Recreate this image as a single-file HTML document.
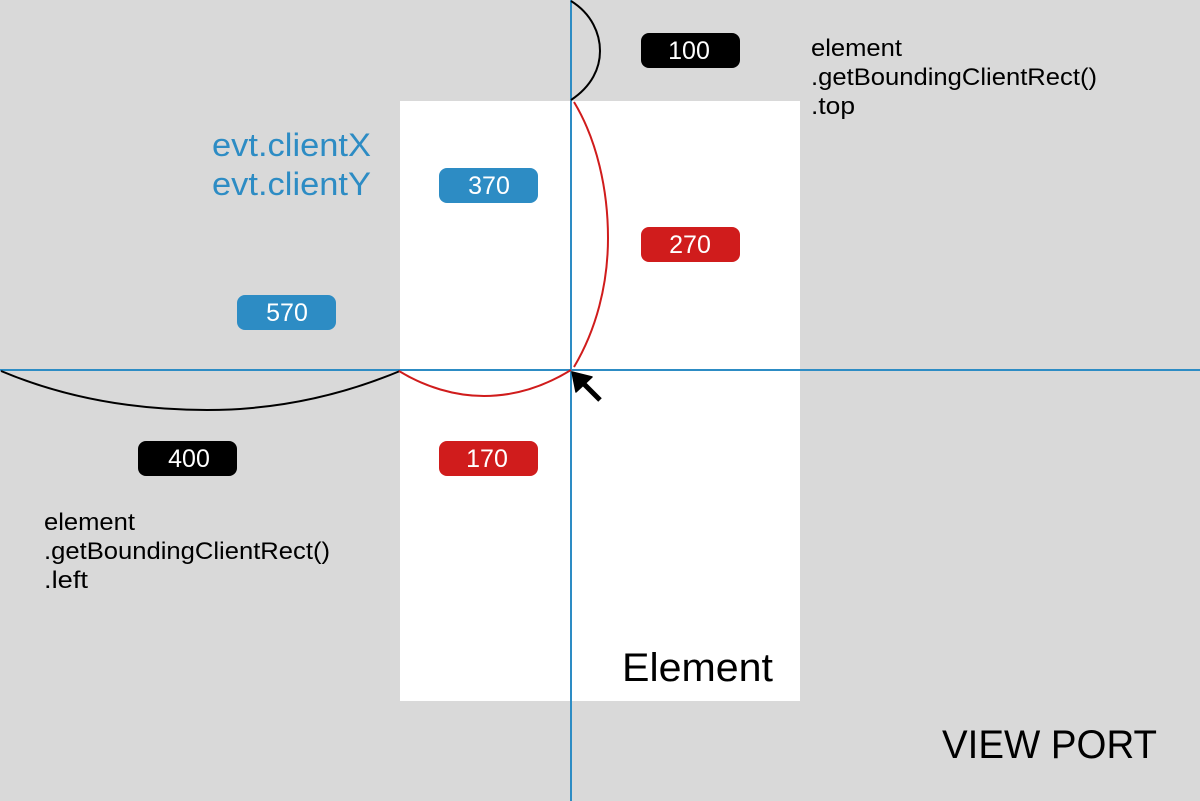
<!DOCTYPE html>
<html><head><meta charset="utf-8"><style>
html,body{margin:0;padding:0;background:#d9d9d9}
svg{display:block}
text{font-family:"Liberation Sans",sans-serif}
</style></head><body>
<svg width="1200" height="801" viewBox="0 0 1200 801" xmlns="http://www.w3.org/2000/svg">
<rect width="1200" height="801" fill="#d9d9d9"/>
<rect x="400" y="101" width="400" height="600" fill="#fff"/>
<g stroke="#2d8cc4" stroke-width="2">
<line x1="571" y1="0" x2="571" y2="801"/>
<line x1="0" y1="370" x2="1200" y2="370"/>
</g>
<g fill="none" stroke-width="2">
<path d="M571 1C592 14 600 34 600 51C600 68 592 86 571 100" stroke="#000"/>
<path d="M1 371C70 400 140 410 207 410C275 410 340 396 400 371" stroke="#000"/>
<path d="M574 102C597 140 608 190 608 238C608 285 596 330 574 367" stroke="#d01c1c"/>
<path d="M399 371C425 387 455 396 484 396C515 396 545 386 571 370" stroke="#d01c1c"/>
</g>
<path d="M572 372L592 377L576 392Z" fill="#000" stroke="#000" stroke-width="1.5" stroke-linejoin="round"/>
<line x1="583" y1="383" x2="600" y2="400" stroke="#000" stroke-width="5"/>
<g>
<rect x="641" y="33" width="99" height="35" rx="8" fill="#000"/>
<rect x="439" y="168" width="99" height="35" rx="8" fill="#2d8cc4"/>
<rect x="641" y="227" width="99" height="35" rx="8" fill="#d01c1c"/>
<rect x="237" y="295" width="99" height="35" rx="8" fill="#2d8cc4"/>
<rect x="138" y="441" width="99" height="35" rx="8" fill="#000"/>
<rect x="439" y="441" width="99" height="35" rx="8" fill="#d01c1c"/>
</g>
<g fill="#fff" font-size="25" text-anchor="middle">
<text x="689" y="59">100</text>
<text x="489" y="194">370</text>
<text x="690" y="253">270</text>
<text x="287" y="321">570</text>
<text x="189" y="467">400</text>
<text x="487" y="467">170</text>
</g>
<g fill="#2d8cc4" font-size="32">
<text x="212" y="156" textLength="159" lengthAdjust="spacingAndGlyphs">evt.clientX</text>
<text x="212" y="195" textLength="159" lengthAdjust="spacingAndGlyphs">evt.clientY</text>
</g>
<g fill="#000" font-size="24">
<text x="811" y="56" textLength="91" lengthAdjust="spacingAndGlyphs">element</text>
<text x="811" y="85" textLength="286" lengthAdjust="spacingAndGlyphs">.getBoundingClientRect()</text>
<text x="811" y="114" textLength="44" lengthAdjust="spacingAndGlyphs">.top</text>
<text x="44" y="530" textLength="91" lengthAdjust="spacingAndGlyphs">element</text>
<text x="44" y="559" textLength="286" lengthAdjust="spacingAndGlyphs">.getBoundingClientRect()</text>
<text x="44" y="588" textLength="44" lengthAdjust="spacingAndGlyphs">.left</text>
</g>
<text x="622" y="681" font-size="40" fill="#000" textLength="151" lengthAdjust="spacingAndGlyphs">Element</text>
<text x="942" y="758" font-size="40" fill="#000" textLength="215" lengthAdjust="spacingAndGlyphs">VIEW PORT</text>
</svg>
</body></html>
